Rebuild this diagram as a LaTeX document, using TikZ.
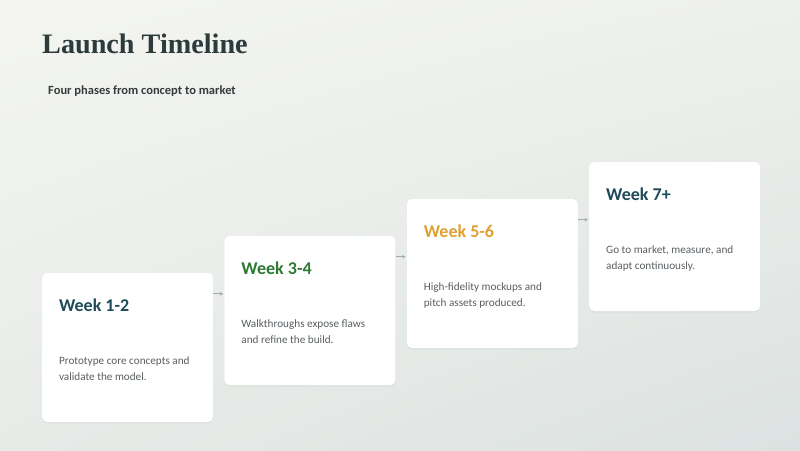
\documentclass[tikz,border=0pt]{standalone}
\usepackage{fontspec}
\setmainfont{Carlito}
\newfontfamily\titlefont{Liberation Serif}
\usetikzlibrary{positioning, arrows.meta, shadows, shadings}

\definecolor{ink}{HTML}{2C3A3B}
\definecolor{subink}{HTML}{343B3C}
\definecolor{bodygray}{HTML}{5A5F62}
\definecolor{weekteal}{HTML}{1E4B5A}
\definecolor{weekgreen}{HTML}{2E7A34}
\definecolor{weekamber}{HTML}{E0A030}
\definecolor{arrowgray}{HTML}{A5AAAB}
\definecolor{bgA}{HTML}{F4F5F0}
\definecolor{bgB}{HTML}{EEF0EC}
\definecolor{bgC}{HTML}{E7EBE8}
\definecolor{bgD}{HTML}{DCE2E1}

\begin{document}
\begin{tikzpicture}[
			x=1pt, y=-1pt,
			font=\fontsize{11.2}{15.3}\selectfont,
			card/.style={fill=white, rounded corners=5pt, minimum width=171pt, minimum height=149pt, inner sep=0pt,
				drop shadow={opacity=0.08, shadow xshift=0pt, shadow yshift=-1.5pt}},
			week/.style={anchor=base west, inner sep=0pt, font=\fontsize{18}{20}\selectfont\bfseries},
			blurb/.style={anchor=north west, inner sep=0pt, align=left, text=bodygray},
			to/.style={-{Stealth[length=3.5pt,width=3.5pt]}, draw=arrowgray, line width=0.8pt, shorten >=1pt}
			]
			
			\shade[upper left=bgA, upper right=bgB, lower left=bgC, lower right=bgD] (0,0) rectangle (800,450);
			\useasboundingbox (0,0) rectangle (800,450);
			
			\node[anchor=base west, inner sep=0pt, text=ink, font=\titlefont\bfseries\fontsize{28.2}{32}\selectfont] (title) at (42,53) {Launch Timeline};
			\node[anchor=base west, inner sep=0pt, text=subink, font=\fontsize{12.5}{14}\selectfont\bfseries] (subtitle) at (48,94) {Four phases from concept to market};
			
			% cards climb one step to the right
			\node[card] (w1) at (127.5,347.5) {};
			\foreach \n/\p in {2/1,3/2,4/3}
				\node[card, right=11pt of w\p, yshift=37pt] (w\n) {};
			
			\foreach \n/\wk/\c in {1/1-2/weekteal, 2/3-4/weekgreen, 3/5-6/weekamber, 4/7+/weekteal}
				\node[week, text=\c] (h\n) at ([xshift=17pt, yshift=-39pt]w\n.north west) {Week \wk};
			
			\node[blurb] (t1) at ([xshift=17pt, yshift=-84pt]w1.north west) {Prototype core concepts and\\validate the model.};
			\node[blurb] (t2) at ([xshift=17pt, yshift=-84pt]w2.north west) {Walkthroughs expose flaws\\and refine the build.};
			\node[blurb] (t3) at ([xshift=17pt, yshift=-84pt]w3.north west) {High-fidelity mockups and\\pitch assets produced.};
			\node[blurb] (t4) at ([xshift=17pt, yshift=-84pt]w4.north west) {Go to market, measure, and\\adapt continuously.};
			
			\foreach \p/\n in {1/2,2/3,3/4} {
				\coordinate (a\p) at ([yshift=-21pt]w\p.north east);
				\draw[to] (a\p) -- (a\p -| w\n.west);
			}
			
\end{tikzpicture}
\end{document}
